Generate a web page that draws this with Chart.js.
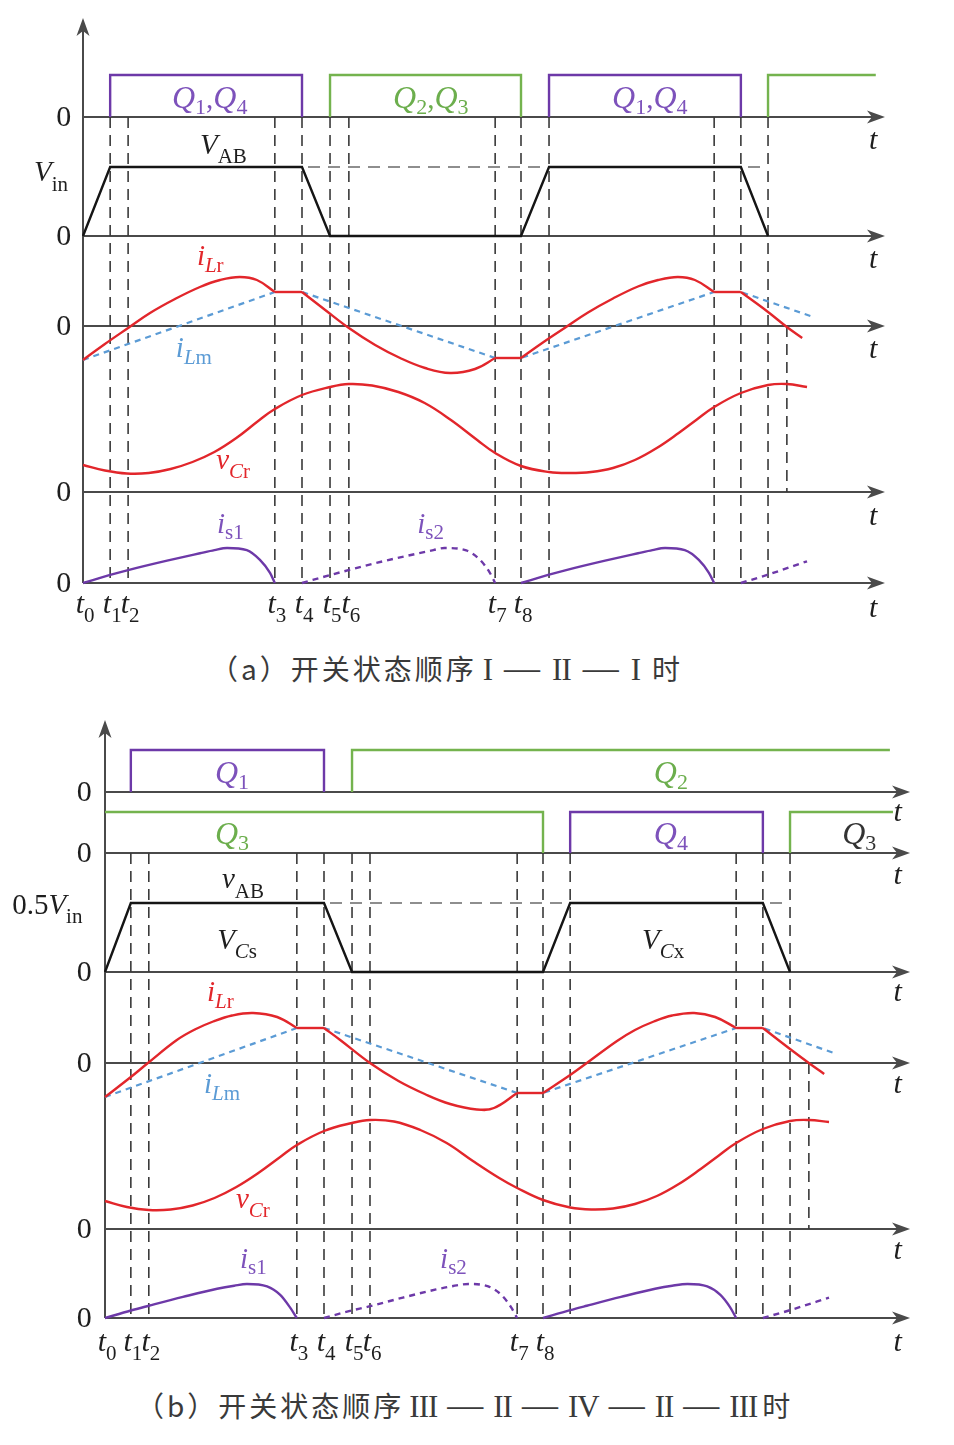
<!DOCTYPE html>
<html>
<head>
<meta charset="utf-8">
<script src="https://cdn.jsdelivr.net/npm/chart.js@4.4.1/dist/chart.umd.min.js"></script>
<style>
  html, body { margin: 0; padding: 0; background: #fff; }
  #page { position: relative; width: 954px; height: 1445px; overflow: hidden; }
  canvas { position: absolute; left: 0; }
  .caption { position: absolute; white-space: nowrap; font-family: "Noto Sans CJK SC"; font-size: 28px; color: #3a3a3a; letter-spacing: 3px; line-height: 40px; }
  .caption span { display: inline-block; }
  .caption .rn { font-family: "Liberation Serif"; font-size: 31px; letter-spacing: -1px; }
  .caption .dash { font-family: "Liberation Serif"; font-size: 36px; letter-spacing: 0; }
  #capA .rn, #capA .dash { margin: 0 6px; }
  #capB .rn, #capB .dash { margin: 0 5px; }
</style>
</head>
<body>
<div id="page">
  <canvas id="chartA" width="954" height="640" style="top:0"></canvas>
  <div class="caption" id="capA" style="left:210px; top:648px"><span>（a）开关状态顺序</span><span class="rn">I</span><span class="dash">—</span><span class="rn">II</span><span class="dash">—</span><span class="rn">I</span><span style="margin-left:6px">时</span></div>
  <canvas id="chartB" width="954" height="670" style="top:700px"></canvas>
  <div class="caption" id="capB" style="left:136px; top:1385px"><span>（b）开关状态顺序</span><span class="rn">III</span><span class="dash">—</span><span class="rn">II</span><span class="dash">—</span><span class="rn">IV</span><span class="dash">—</span><span class="rn">II</span><span class="dash">—</span><span class="rn">III</span><span>时</span></div>
</div>
<script>
// ---------- panel (a) : time in units of (t8 - t0) / 10 ----------
const tickTimesA = [0, 0.62, 1.03, 4.38, 5.00, 5.64, 6.07, 9.41, 10.00];
const guidesA = [0.62, 1.03, 4.38, 5.00, 5.64, 6.07, 9.41, 10.00, 10.64, 14.41, 15.02, 15.64];
const guidesShortA = [16.07];

const q14PulsesA = [[0.62, 5.00], [10.64, 15.02]];
const q23PulsesA = [[5.64, 10.00], [15.64, 18.10]]; // last one still on at the right edge

const vabTimesA = [0, 0.62, 5.00, 5.64, 10.00, 10.64, 15.02, 15.64];
const vabValsA = [0, 1, 1, 0, 0, 1, 1, 0];
const vinDashA = [5.00, 15.64];

const ilrTimesA = [0, 0.50, 1.03, 1.53, 2.10, 2.67, 3.13, 3.58, 3.97, 4.38,
  5.00, 5.53, 6.07, 6.67, 7.24, 7.81, 8.38, 8.95, 9.41,
  10.00, 10.50, 11.03, 11.53, 12.10, 12.67, 13.13, 13.58, 13.97, 14.41,
  15.02, 15.64, 16.07, 16.42];
const ilrValsA = [-0.68, -0.36, -0.04, 0.26, 0.54, 0.78, 0.92, 0.98, 0.92, 0.68,
  0.68, 0.32, -0.04, -0.38, -0.64, -0.84, -0.94, -0.86, -0.64,
  -0.64, -0.33, -0.02, 0.27, 0.55, 0.79, 0.92, 0.98, 0.92, 0.68,
  0.68, 0.28, -0.02, -0.24];
const ilrCornersA = [4.38, 5.00, 9.41, 10.00, 14.41, 15.02];

const ilmTimesA = [0, 4.38, 5.00, 9.41, 10.00, 14.41, 15.02, 16.64];
const ilmValsA = [-0.68, 0.68, 0.68, -0.64, -0.64, 0.68, 0.68, 0.19];

const vcrTimesA = [0, 0.50, 1.00, 1.50, 2.00, 2.50, 3.00, 3.50, 4.00, 4.38, 5.00, 5.64, 6.07,
  6.60, 7.20, 7.80, 8.40, 9.00, 9.41, 10.00, 10.64, 11.12,
  11.60, 12.10, 12.60, 13.10, 13.60, 14.00, 14.41, 15.02, 15.64, 16.07, 16.53];
const vcrValsA = [0.27, 0.215, 0.185, 0.19, 0.23, 0.30, 0.40, 0.54, 0.71, 0.83, 0.97, 1.05, 1.08,
  1.065, 1.00, 0.89, 0.72, 0.52, 0.39, 0.26, 0.20, 0.19,
  0.20, 0.24, 0.32, 0.44, 0.59, 0.72, 0.85, 0.99, 1.07, 1.08, 1.05];

const is1TimesA = [[0, 0.62, 1.03, 1.92, 2.67, 3.00, 3.29, 3.74, 4.04, 4.27, 4.38],
                   [10.00, 10.62, 11.03, 11.92, 12.67, 13.00, 13.29, 13.74, 14.06, 14.29, 14.41]];
const is1ValsA = [[0, 0.23, 0.37, 0.64, 0.85, 0.94, 1.00, 0.94, 0.66, 0.29, 0],
                  [0, 0.23, 0.37, 0.64, 0.85, 0.94, 1.00, 0.94, 0.66, 0.29, 0]];
const is2TimesA = [[5.00, 5.71, 6.10, 6.85, 7.63, 8.00, 8.25, 8.75, 9.05, 9.28, 9.41], [15.02, 15.62, 16.53]];
const is2ValsA = [[0, 0.25, 0.38, 0.62, 0.84, 0.94, 1.00, 0.93, 0.68, 0.31, 0], [0, 0.23, 0.62]];

// ---------- panel (b) ----------
const tickTimesB = [0, 0.59, 1.00, 4.38, 5.00, 5.64, 6.05, 9.41, 10.00];
const guidesB = [0.59, 1.00, 4.38, 5.00, 5.64, 6.05, 9.41, 10.00, 10.62, 14.41, 15.02, 15.64];
const guidesShortB = [16.07];

const q1PulsesB = [[0.59, 5.00]];
const q2PulsesB = [[5.64, 17.92]];                 // stays on
const q3PulsesB = [[0, 10.00], [15.64, 17.99]];     // on from the start, on again at the end
const q4PulsesB = [[10.62, 15.02]];

const vabTimesB = [0, 0.59, 5.00, 5.64, 10.00, 10.62, 15.02, 15.64];
const vabValsB = [0, 0.5, 0.5, 0, 0, 0.5, 0.5, 0];
const vinDashB = [5.00, 15.64];

const ilrTimesB = [0, 0.59, 0.98, 1.64, 2.05, 2.47, 2.90, 3.38, 3.93, 4.38,
  5.00, 5.37, 6.05, 6.70, 7.30, 7.88, 8.49, 8.88, 9.41,
  10.00, 10.62, 11.00, 11.69, 12.10, 12.53, 12.95, 13.45, 13.93, 14.41,
  15.02, 15.64, 16.10, 16.42];
const ilrValsB = [-0.68, -0.28, 0.00, 0.46, 0.67, 0.83, 0.95, 1.00, 0.92, 0.70,
  0.70, 0.46, 0.00, -0.36, -0.62, -0.82, -0.93, -0.90, -0.60,
  -0.60, -0.24, 0.00, 0.44, 0.66, 0.83, 0.95, 1.00, 0.92, 0.70,
  0.70, 0.28, -0.02, -0.22];
const ilrCornersB = [4.38, 5.00, 9.41, 10.00, 14.41, 15.02];

const ilmTimesB = [0, 4.38, 5.00, 9.41, 10.00, 14.41, 15.02, 16.64];
const ilmValsB = [-0.68, 0.70, 0.70, -0.60, -0.60, 0.70, 0.70, 0.20];

const vcrTimesB = [0, 0.50, 1.00, 1.50, 2.00, 2.50, 3.00, 3.50, 4.00, 4.38, 5.00, 5.64, 6.05,
  6.60, 7.20, 7.80, 8.40, 9.00, 9.41, 10.00, 10.62, 11.10,
  11.60, 12.10, 12.60, 13.10, 13.60, 14.00, 14.41, 15.02, 15.64, 16.07, 16.53];
const vcrValsB = [0.28, 0.22, 0.19, 0.195, 0.235, 0.31, 0.42, 0.56, 0.72, 0.84, 0.98, 1.06, 1.09,
  1.075, 0.99, 0.86, 0.68, 0.51, 0.41, 0.29, 0.215, 0.195,
  0.205, 0.25, 0.33, 0.45, 0.60, 0.73, 0.86, 1.00, 1.08, 1.09, 1.07];

const is1TimesB = [[0, 0.59, 1.00, 1.78, 2.56, 2.95, 3.24, 3.70, 4.00, 4.22, 4.38],
                   [10.00, 10.62, 11.00, 11.78, 12.56, 12.95, 13.30, 13.75, 14.05, 14.27, 14.41]];
const is1ValsB = [[0, 0.22, 0.36, 0.62, 0.86, 0.95, 1.00, 0.93, 0.68, 0.32, 0],
                  [0, 0.23, 0.36, 0.62, 0.86, 0.95, 1.00, 0.93, 0.68, 0.32, 0]];
const is2TimesB = [[5.00, 5.57, 6.03, 6.80, 7.56, 7.95, 8.30, 8.75, 9.05, 9.27, 9.41], [15.02, 15.64, 16.53]];
const is2ValsB = [[0, 0.20, 0.34, 0.60, 0.84, 0.94, 1.00, 0.93, 0.68, 0.32, 0], [0, 0.23, 0.60]];

// ---------- look ----------
const PURPLE = '#6d39a8', GREEN = '#74b34e', RED = '#e2262b', BLUE = '#5b9bd5', BLACK = '#151515';
const AXIS = '#4a4a4a', GUIDE = '#3a3a3a';
const PURPLE_T = '#7d52bb', GREEN_T = '#6cae4d', RED_T = '#e2262b', BLUE_T = '#5b9bd5', TXT = '#1e1e1e';
const IT = 'italic 29px "Liberation Serif"', UP = '29px "Liberation Serif"';
const TF = 'italic 30px "Liberation Serif"';
const QF = 'italic 32px "Liberation Serif"', QS = '22px "Liberation Serif"';
const SB = '21px "Liberation Serif"', SBI = 'italic 21px "Liberation Serif"';
const UNIT_PX = 43.8; // pixels per time unit

function line(points, color, width, extra) {
  return Object.assign({ data: points, borderColor: color, borderWidth: width, pointRadius: 0,
    pointHoverRadius: 0, fill: false, tension: 0, order: 1 }, extra || {});
}
const onRow = (row, ts, vs) => ts.map((t, i) => ({ x: t, y: row[0] - row[1] * vs[i] }));

function splitAt(ts, vs, corners) {
  const segs = [];
  let cur = { t: [], v: [] };
  ts.forEach((t, i) => {
    cur.t.push(t); cur.v.push(vs[i]);
    if (corners.includes(t) && cur.t.length > 1) {
      segs.push(cur);
      cur = { t: [t], v: [vs[i]] };
    }
  });
  if (cur.t.length > 1) segs.push(cur);
  return segs;
}

function pulses(row, list, color, openStart, openEnd) {
  return list.map((p, i) => {
    const ts = [], vs = [];
    if (!(openStart && i === 0)) { ts.push(p[0]); vs.push(0); }
    ts.push(p[0], p[1]); vs.push(1, 1);
    if (!(openEnd && i === list.length - 1)) { ts.push(p[1]); vs.push(0); }
    return line(onRow(row, ts, vs), color, 2.4);
  });
}

function arrow(ctx, x, y, dir) {
  ctx.beginPath();
  if (dir === 'right') {
    ctx.moveTo(x, y); ctx.lineTo(x - 18, y - 6.5); ctx.lineTo(x - 13, y); ctx.lineTo(x - 18, y + 6.5);
  } else {
    ctx.moveTo(x, y); ctx.lineTo(x - 6.5, y + 18); ctx.lineTo(x, y + 13); ctx.lineTo(x + 6.5, y + 18);
  }
  ctx.closePath();
  ctx.fill();
}

const decorPlugin = {
  id: 'decor',
  beforeDatasetsDraw(chart, args, o) {
    const ctx = chart.ctx;
    const X = v => chart.scales.x.getPixelForValue(v), Y = v => chart.scales.y.getPixelForValue(v);
    ctx.save();
    ctx.strokeStyle = AXIS; ctx.fillStyle = AXIS; ctx.lineWidth = 2;
    o.axes.forEach(y => {
      ctx.beginPath(); ctx.moveTo(X(0), Y(y)); ctx.lineTo(X(o.axisEnd) - 12, Y(y)); ctx.stroke();
      arrow(ctx, X(o.axisEnd), Y(y), 'right');
    });
    ctx.beginPath(); ctx.moveTo(X(0), Y(o.axisBottom)); ctx.lineTo(X(0), Y(o.axisTop) + 12); ctx.stroke();
    arrow(ctx, X(0), Y(o.axisTop), 'up');
    ctx.restore();
  },
  afterDatasetsDraw(chart, args, o) {
    const ctx = chart.ctx;
    const X = v => chart.scales.x.getPixelForValue(v), Y = v => chart.scales.y.getPixelForValue(v);
    ctx.save();
    // zeros on the left
    ctx.fillStyle = TXT; ctx.font = '30px "Liberation Serif"'; ctx.textAlign = 'right'; ctx.textBaseline = 'middle';
    o.axes.forEach(y => ctx.fillText('0', X(o.zeroAt), Y(y) + 1));
    // t at the arrow ends
    ctx.textBaseline = 'alphabetic'; ctx.textAlign = 'center'; ctx.font = TF;
    o.tAxisLabels.forEach(y => ctx.fillText('t', X(o.tAxisAt), Y(y)));
    // t0 ... t8
    o.ticks.forEach((t, i) => {
      ctx.font = TF; ctx.textAlign = 'right';
      ctx.fillText('t', X(t) + 1, Y(o.tickBase));
      ctx.font = SB; ctx.textAlign = 'left';
      ctx.fillText(String(i), X(t) + 1, Y(o.tickBase) + 9);
    });
    // signal names
    ctx.textAlign = 'left';
    o.labels.forEach(l => {
      let x = X(l.t);
      ctx.fillStyle = l.c;
      l.p.forEach(([s, f, dy]) => {
        ctx.font = f;
        ctx.fillText(s, x, Y(l.y) + (dy || 0));
        x += ctx.measureText(s).width;
      });
    });
    ctx.restore();
  }
};

function makeChart(id, height, origin, datasets, decor) {
  const xMin = -origin / UNIT_PX;
  return new Chart(document.getElementById(id), {
    type: 'line',
    data: { datasets: datasets },
    options: {
      responsive: false,
      animation: false,
      devicePixelRatio: 1,
      events: [],
      layout: { padding: 0, autoPadding: false },
      scales: {
        x: { type: 'linear', min: xMin, max: xMin + 954 / UNIT_PX, display: false },
        y: { type: 'linear', min: 0, max: height, reverse: true, display: false }
      },
      plugins: { legend: { display: false }, tooltip: { enabled: false }, decor: decor }
    },
    plugins: [decorPlugin]
  });
}

const smooth = { cubicInterpolationMode: 'monotone' };   // lobes that drop steeply to zero
const soft = { tension: 0.4 };                           // sine-like waves
const qLabel = (a, b) => [['Q', QF], [a, QS, 6], [',', UP], ['Q', QF], [b, QS, 6]];

// ---------- panel (a) ----------
const rowsA = { gate: [117, 42], vab: [236, 69], ilr: [326, 50], vcr: [492, 100], is: [583, 35] };
const dsA = [];
guidesA.forEach(t => dsA.push(line([{ x: t, y: 117 }, { x: t, y: 583 }], GUIDE, 1.6, { borderDash: [11, 7], order: 6 })));
guidesShortA.forEach(t => dsA.push(line([{ x: t, y: 326 }, { x: t, y: 492 }], GUIDE, 1.6, { borderDash: [11, 7], order: 6 })));
dsA.push(...pulses(rowsA.gate, q14PulsesA, PURPLE, false, false));
dsA.push(...pulses(rowsA.gate, q23PulsesA, GREEN, false, true));
dsA.push(line(onRow(rowsA.vab, vinDashA, [1, 1]), '#6a6a6a', 1.6, { borderDash: [12, 8], borderDashOffset: 14, order: 4 }));
dsA.push(line(onRow(rowsA.vab, vabTimesA, vabValsA), BLACK, 2.4));
dsA.push(line(onRow(rowsA.ilr, ilmTimesA, ilmValsA), BLUE, 2.2, { borderDash: [6, 5], order: 2 }));
splitAt(ilrTimesA, ilrValsA, ilrCornersA).forEach(s => dsA.push(line(onRow(rowsA.ilr, s.t, s.v), RED, 2.4, soft)));
dsA.push(line(onRow(rowsA.vcr, vcrTimesA, vcrValsA), RED, 2.4, soft));
is1TimesA.forEach((ts, i) => dsA.push(line(onRow(rowsA.is, ts, is1ValsA[i]), PURPLE, 2.4, smooth)));
is2TimesA.forEach((ts, i) => dsA.push(line(onRow(rowsA.is, ts, is2ValsA[i]), PURPLE, 2.4, Object.assign({ borderDash: [6, 5] }, smooth))));

makeChart('chartA', 640, 83, dsA, {
  axes: [117, 236, 326, 492, 583], axisEnd: 18.31, axisTop: 18, axisBottom: 583,
  zeroAt: -0.27, tAxisAt: 18.04, tAxisLabels: [149, 268, 358, 525, 617],
  ticks: tickTimesA, tickBase: 613,
  labels: [
    { t: 2.03, y: 108, c: PURPLE_T, p: qLabel('1', '4') },
    { t: 7.08, y: 108, c: GREEN_T, p: qLabel('2', '3') },
    { t: 12.08, y: 108, c: PURPLE_T, p: qLabel('1', '4') },
    { t: 2.67, y: 154, c: TXT, p: [['V', IT], ['AB', SB, 9]] },
    { t: -1.12, y: 181, c: TXT, p: [['V', IT], ['in', SB, 10]] },
    { t: 2.60, y: 265, c: RED_T, p: [['i', IT], ['L', SBI, 7], ['r', SB, 7]] },
    { t: 2.12, y: 357, c: BLUE_T, p: [['i', IT], ['L', SBI, 7], ['m', SB, 7]] },
    { t: 3.04, y: 469, c: RED_T, p: [['v', IT], ['C', SBI, 9], ['r', SB, 9]] },
    { t: 3.06, y: 533, c: PURPLE_T, p: [['i', IT], ['s1', SB, 6]] },
    { t: 7.63, y: 533, c: PURPLE_T, p: [['i', IT], ['s2', SB, 6]] }
  ]
});

// ---------- panel (b) ----------
const rowsB = { gate1: [92, 42], gate2: [153, 41], vab: [272, 138], ilr: [363, 50], vcr: [529, 100], is: [618, 34] };
const dsB = [];
guidesB.forEach(t => dsB.push(line([{ x: t, y: 153 }, { x: t, y: 618 }], GUIDE, 1.6, { borderDash: [11, 7], order: 6 })));
guidesShortB.forEach(t => dsB.push(line([{ x: t, y: 363 }, { x: t, y: 529 }], GUIDE, 1.6, { borderDash: [11, 7], order: 6 })));
dsB.push(...pulses(rowsB.gate1, q1PulsesB, PURPLE, false, false));
dsB.push(...pulses(rowsB.gate1, q2PulsesB, GREEN, false, true));
dsB.push(...pulses(rowsB.gate2, q3PulsesB, GREEN, true, true));
dsB.push(...pulses(rowsB.gate2, q4PulsesB, PURPLE, false, false));
dsB.push(line(onRow(rowsB.vab, vinDashB, [0.5, 0.5]), '#6a6a6a', 1.6, { borderDash: [12, 8], borderDashOffset: 14, order: 4 }));
dsB.push(line(onRow(rowsB.vab, vabTimesB, vabValsB), BLACK, 2.4));
dsB.push(line(onRow(rowsB.ilr, ilmTimesB, ilmValsB), BLUE, 2.2, { borderDash: [6, 5], order: 2 }));
splitAt(ilrTimesB, ilrValsB, ilrCornersB).forEach(s => dsB.push(line(onRow(rowsB.ilr, s.t, s.v), RED, 2.4, soft)));
dsB.push(line(onRow(rowsB.vcr, vcrTimesB, vcrValsB), RED, 2.4, soft));
is1TimesB.forEach((ts, i) => dsB.push(line(onRow(rowsB.is, ts, is1ValsB[i]), PURPLE, 2.4, smooth)));
is2TimesB.forEach((ts, i) => dsB.push(line(onRow(rowsB.is, ts, is2ValsB[i]), PURPLE, 2.4, Object.assign({ borderDash: [6, 5] }, smooth))));

makeChart('chartB', 670, 105, dsB, {
  axes: [92, 153, 272, 363, 529, 618], axisEnd: 18.38, axisTop: 20, axisBottom: 618,
  zeroAt: -0.30, tAxisAt: 18.10, tAxisLabels: [121, 184, 301, 393, 559, 651],
  ticks: tickTimesB, tickBase: 651,
  labels: [
    { t: 2.51, y: 83, c: PURPLE_T, p: [['Q', QF], ['1', QS, 6]] },
    { t: 12.53, y: 83, c: GREEN_T, p: [['Q', QF], ['2', QS, 6]] },
    { t: 2.51, y: 144, c: GREEN_T, p: [['Q', QF], ['3', QS, 6]] },
    { t: 12.53, y: 144, c: PURPLE_T, p: [['Q', QF], ['4', QS, 6]] },
    { t: 16.83, y: 144, c: '#333', p: [['Q', QF], ['3', QS, 6]] },
    { t: 2.67, y: 188, c: TXT, p: [['v', IT], ['AB', SB, 10]] },
    { t: 2.56, y: 249, c: TXT, p: [['V', IT], ['C', SBI, 9], ['s', SB, 9]] },
    { t: 12.26, y: 249, c: TXT, p: [['V', IT], ['C', SBI, 9], ['x', SB, 9]] },
    { t: -2.12, y: 214, c: TXT, p: [['0.5', UP], ['V', IT], ['in', SB, 9]] },
    { t: 2.33, y: 301, c: RED_T, p: [['i', IT], ['L', SBI, 7], ['r', SB, 7]] },
    { t: 2.26, y: 393, c: BLUE_T, p: [['i', IT], ['L', SBI, 7], ['m', SB, 7]] },
    { t: 2.99, y: 508, c: RED_T, p: [['v', IT], ['C', SBI, 9], ['r', SB, 9]] },
    { t: 3.08, y: 568, c: PURPLE_T, p: [['i', IT], ['s1', SB, 6]] },
    { t: 7.65, y: 568, c: PURPLE_T, p: [['i', IT], ['s2', SB, 6]] }
  ]
});
</script>
</body>
</html>
